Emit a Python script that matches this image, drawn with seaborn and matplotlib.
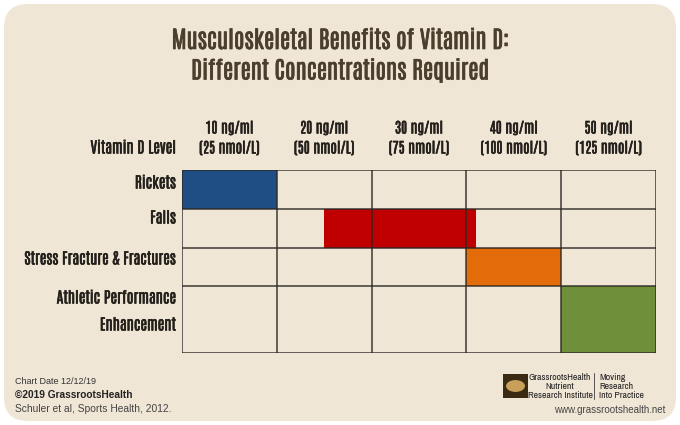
import matplotlib
matplotlib.use("Agg")
import matplotlib.pyplot as plt
from matplotlib.patches import FancyBboxPatch, Rectangle, Circle
import matplotlib.patheffects as pe
import seaborn as sns
import pandas as pd
import numpy as np

# ---------------- data ----------------
levels_ng = [10, 20, 30, 40, 50]
levels_nmol = [25, 50, 75, 100, 125]
benefits = ["Rickets", "Falls", "Stress Fracture & Fractures", "Athletic Performance\nEnhancement"]
range_start = [10, 25, 40, 50]   # ng/ml
range_end = [20, 41, 50, 60]     # ng/ml
bar_colors = ["#1f4e85", "#c00000", "#e36c0a", "#6f8f3a"]

title = "Musculoskeletal Benefits of Vitamin D:\nDifferent Concentrations Required"

# ---------------- style ----------------
sns.set_theme(style="white")
COND = ["Antonio", "Archivo Narrow", "DejaVu Sans"]
NARROW = ["Archivo Narrow", "Liberation Sans", "DejaVu Sans"]
ARIAL = ["Liberation Sans", "DejaVu Sans"]
plt.rcParams["font.family"] = COND
BEIGE = "#f0e6d6"
TXT = "#231f1a"
TITLE_C = "#4a3f2c"

def bold(c, w=0.4):
    return [pe.withStroke(linewidth=w, foreground=c)]

W, H = 680, 425
fig = plt.figure(figsize=(W / 100, H / 100), dpi=100, facecolor="white")

def fx(px):
    return px / W

def fy(py):
    return 1 - py / H

# rounded panel (behind everything)
panel = FancyBboxPatch((fx(4), fy(421)), fx(672), 417 / H,
                       boxstyle="round,pad=0,rounding_size=0.035",
                       transform=fig.transFigure, facecolor=BEIGE, edgecolor="none",
                       mutation_aspect=W / H, zorder=-10)
fig.patches.append(panel)

# grid axes
L, R, T, B = 182, 656, 170, 353
ax = fig.add_axes([fx(L), fy(B), fx(R - L), (B - T) / H])
ax.set_zorder(5)
ax.set_facecolor(BEIGE)

row_h = [1, 1, 1, 1.72]
edges = np.concatenate([[0], np.cumsum(row_h)])
centers = (edges[:-1] + edges[1:]) / 2

df = pd.DataFrame({"benefit": benefits, "start": range_start, "end": range_end,
                   "y": centers, "h": row_h, "color": bar_colors})
for _, r in df.iterrows():
    ax.barh(r["y"], r["end"] - r["start"], left=r["start"], height=r["h"],
            color=r["color"], edgecolor="none", zorder=1)

col_edges = levels_ng + [levels_ng[-1] + 10]
ax.vlines(col_edges, 0, edges[-1], color="#2a2622", lw=1.1, zorder=3, alpha=0.9)
ax.hlines(edges, col_edges[0], col_edges[-1], color="#2a2622", lw=1.1, zorder=3, alpha=0.9)
ax.set_xlim(col_edges[0], col_edges[-1])
ax.set_ylim(edges[-1], 0)
ax.set_xticks([])
ax.set_yticks([])
for s in ax.spines.values():
    s.set_visible(False)

HS = 10.5   # header font size
LS = 11     # row label font size

# column headers
for lv, nm in zip(levels_ng, levels_nmol):
    xc = lv + 5
    x_fig = fx(L + (xc - col_edges[0]) / 50 * (R - L))
    fig.text(x_fig, fy(128), f"{lv} ng/ml", ha="center", va="center",
             fontsize=HS, color=TXT, family=COND, path_effects=bold(TXT))
    fig.text(x_fig, fy(148), f"({nm} nmol/L)", ha="center", va="center",
             fontsize=HS, color=TXT, family=COND, path_effects=bold(TXT))

fig.text(fx(176), fy(148), "Vitamin D Level", ha="right", va="center",
         fontsize=LS, color=TXT, family=COND, path_effects=bold(TXT))

# row labels
label_y = [183, 218, 259, None]
for i, b in enumerate(benefits):
    if "\n" in b:
        l1, l2 = b.split("\n")
        fig.text(fx(176), fy(298), l1, ha="right", va="center", fontsize=LS,
                 color=TXT, family=COND, path_effects=bold(TXT))
        fig.text(fx(176), fy(325), l2, ha="right", va="center", fontsize=LS,
                 color=TXT, family=COND, path_effects=bold(TXT))
    else:
        fig.text(fx(176), fy(label_y[i]), b, ha="right", va="center", fontsize=LS,
                 color=TXT, family=COND, path_effects=bold(TXT))

# title
t1, t2 = title.split("\n")
fig.text(0.5, fy(40), t1, ha="center", va="center", fontsize=17,
         color=TITLE_C, family=COND, path_effects=bold(TITLE_C, 0.5))
fig.text(0.5, fy(70), t2, ha="center", va="center", fontsize=17,
         color=TITLE_C, family=COND, path_effects=bold(TITLE_C, 0.5))

# footer left
fig.text(fx(15), fy(381), "Chart Date 12/12/19", ha="left", va="center",
         fontsize=6.5, color="#333333", family=ARIAL)
fig.text(fx(15), fy(395), "\u00a92019 GrassrootsHealth", ha="left", va="center",
         fontsize=7.3, fontweight="bold", color="#222222", family=ARIAL)
fig.text(fx(15), fy(409), "Schuler et al, Sports Health, 2012.", ha="left", va="center",
         fontsize=7.4, color="#444444", family=ARIAL)

# footer right - logo
logo = Rectangle((fx(503), fy(398)), fx(25), 24 / H, transform=fig.transFigure,
                 facecolor="#3a2a14", edgecolor="none")
fig.patches.append(logo)
circ = Circle((fx(515.5), fy(386)), fx(9.5), transform=fig.transFigure,
              facecolor="#c9a05a", edgecolor="none")
fig.patches.append(circ)
for i, line in enumerate(["GrassrootsHealth", "Nutrient", "Research Institute"]):
    fig.text(fx(560), fy(377 + i * 9.5), line, ha="center", va="center",
             fontsize=7, fontweight="bold", color="#222222", family=NARROW)
fig.lines.append(plt.Line2D([fx(594), fx(594)], [fy(373), fy(399)],
                            transform=fig.transFigure, color="#555555", lw=0.7))
for i, line in enumerate(["Moving", "Research", "Into Practice"]):
    fig.text(fx(599), fy(377 + i * 9.5), line, ha="left", va="center",
             fontsize=7, color="#222222", family=NARROW)
fig.text(fx(665), fy(410), "www.grassrootshealth.net", ha="right", va="center",
         fontsize=7, color="#444444", family=ARIAL)

fig.savefig("out.png", dpi=100, facecolor="white")
